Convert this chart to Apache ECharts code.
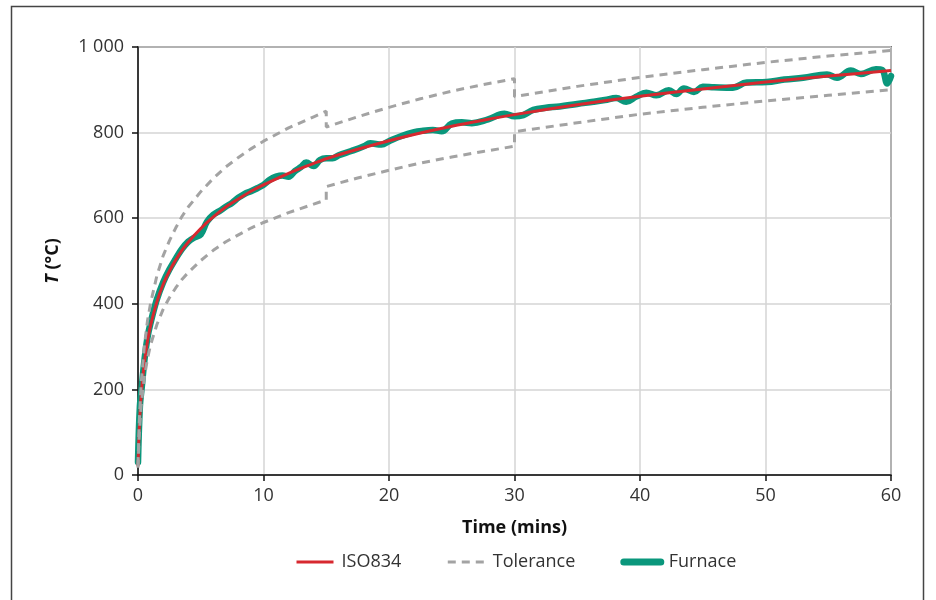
<!DOCTYPE html>
<html>
<head>
<meta charset="utf-8">
<script src="https://cdn.jsdelivr.net/npm/echarts@6/dist/echarts.min.js"></script>
<style>
html,body{margin:0;padding:0;background:#fff;}
#chart{width:936px;height:600px;}
</style>
</head>
<body>
<div id="chart"></div>
<script>
// ISO834 standard curve
const isoTime = [0,0.1,0.25,0.5,0.75,1,1.5,2,2.5,3,3.5,4,5,6,7,8,9,10,12,14,15,17.5,20,22.5,25,27.5,30,35,40,45,50,55,60];
const isoTemp = [20,108,185,261,312,349,404,445,476,502,525,544,576,603,626,645,663,678,705,728,739,761,781,799,815,829,842,865,885,902,918,932,945];

// Tolerance upper band
const upTime = [0,0.1,0.25,0.5,0.75,1,1.5,2,2.5,3,3.5,4,5,6,7,8,9,10,12,14,15,15,17.5,20,22.5,25,27.5,30,30,35,40,45,50,55,60];
const upTemp = [23,124,213,300,359,401,465,512,547,577,604,626,662,693,720,742,762,780,811,837,850,813,837,859,879,897,912,926,884,908,929,947,964,979,992];

// Tolerance lower band
const lowTime = [0,0.1,0.25,0.5,0.75,1,1.5,2,2.5,3,3.5,4,5,6,7,8,9,10,12,14,15,15,17.5,20,22.5,25,27.5,30,30,35,40,45,50,55,60];
const lowTemp = [17,94,161,227,271,304,351,387,414,437,457,473,501,525,545,561,577,590,613,633,643,674,694,712,729,743,756,768,802,823,843,859,874,887,900];

// Furnace measured
const furTime = [0,0.15,0.3,0.5,0.75,1,1.5,2,2.5,3,3.5,4,4.5,5,5.5,6,6.5,7,7.5,8,8.5,9,9.5,10,10.5,11,11.5,12,12.5,13,13.4,14,14.5,15,15.5,16,17,18,18.5,19.4,20,21,22,22.6,23.5,24.2,25,25.8,26.6,27.9,29.2,30,30.7,31.5,32.5,33.6,35,36.3,37.2,38.1,38.9,39.7,40.5,41.3,42.3,42.9,43.5,44.3,45,45.9,47.4,48.5,50.1,51.5,53,54.9,55.7,56.8,57.6,58.8,59.3,59.7,60];
const furTemp = [30,160,205,265,320,355,410,450,480,505,528,545,555,562,592,608,617,627,636,648,657,663,670,678,690,697,700,697,710,720,730,722,736,740,740,747,757,768,775,772,780,792,801,804,806,803,821,824,822,831,844,838,841,853,858,861,867,872,876,881,872,884,893,887,899,890,903,895,907,906,905,917,918,924,928,936,928,945,937,948,946,915,932];

const xTicks = [0,10,20,30,40,50,60];
const yTicks = [0,200,400,600,800,1000];

function zip(a,b){return a.map((v,i)=>[v,b[i]]);}

const FONT = '"Open Sans", "Noto Sans", sans-serif';
const RED = '#d7282f', GRAY = '#a3a3a3', TEAL = '#0a977c';
const HIDE = {opacity:0, borderWidth:0};

const chart = echarts.init(document.getElementById('chart'), null, {renderer:'canvas'});
chart.setOption({
  animation:false,
  backgroundColor:'#fff',
  graphic:[{
    type:'rect', silent:true, z:-1,
    shape:{x:11.5,y:6.5,width:912,height:620},
    style:{fill:'none',stroke:'#444',lineWidth:1.5}
  }],
  grid:{left:138,top:47,width:753,height:428,show:true,borderColor:'#111',borderWidth:1.5,backgroundColor:'transparent'},
  legend:{
    top:548, left:290,
    itemWidth:37, itemHeight:14, itemGap:45,
    textStyle:{fontFamily:FONT,fontSize:18,color:'#333',padding:[0,0,0,3]},
    data:[
      {name:'ISO834',lineStyle:{width:3},itemStyle:HIDE},
      {name:'Tolerance',lineStyle:{width:3,type:[8,6]},itemStyle:HIDE},
      {name:'Furnace',lineStyle:{width:7,cap:'round'},itemStyle:HIDE}
    ]
  },
  xAxis:{
    type:'value', min:xTicks[0], max:xTicks[xTicks.length-1], interval:10,
    name:'Time (mins)', nameLocation:'middle', nameGap:44,
    nameTextStyle:{fontFamily:FONT,fontSize:18,fontWeight:'bold',color:'#111'},
    axisLine:{lineStyle:{color:'#111',width:1.5}},
    axisTick:{show:true,length:6,lineStyle:{color:'#111',width:1.5}},
    axisLabel:{fontFamily:FONT,fontSize:18,color:'#333',margin:12},
    splitLine:{show:true,lineStyle:{color:'#d4d4d4',width:1.5}}
  },
  yAxis:{
    type:'value', min:yTicks[0], max:yTicks[yTicks.length-1], interval:200,
    name:'{i|T} (°C)', nameLocation:'middle', nameGap:76, nameRotate:90,
    nameTextStyle:{fontFamily:FONT,fontSize:18,fontWeight:'bold',color:'#111',
      rich:{i:{fontFamily:FONT,fontSize:18,fontWeight:'bold',fontStyle:'italic',color:'#111'}}},
    axisLine:{show:true,lineStyle:{color:'#111',width:1.5}},
    axisTick:{show:true,length:6,lineStyle:{color:'#111',width:1.5}},
    axisLabel:{fontFamily:FONT,fontSize:18,color:'#333',margin:14,
      formatter:v=> v>=1000 ? Math.floor(v/1000)+' '+String(v%1000).padStart(3,'0') : String(v)},
    splitLine:{show:true,lineStyle:{color:'#d4d4d4',width:1.5}}
  },
  series:[
    {name:'Furnace',type:'line',data:zip(furTime,furTemp),symbol:'none',smooth:0.4,z:2,
      lineStyle:{color:TEAL,width:6.5,cap:'round',join:'round'},itemStyle:{color:TEAL}},
    {name:'ISO834',type:'line',data:zip(isoTime,isoTemp),symbol:'none',smooth:0.3,z:3,
      lineStyle:{color:RED,width:3},itemStyle:{color:RED}},
    {name:'Tolerance',type:'line',data:zip(upTime,upTemp),symbol:'none',z:4,
      lineStyle:{color:GRAY,width:3,type:[8,6]},itemStyle:{color:GRAY}},
    {name:'Tolerance',type:'line',data:zip(lowTime,lowTemp),symbol:'none',z:4,
      lineStyle:{color:GRAY,width:3,type:[8,6]},itemStyle:{color:GRAY}}
  ]
});
</script>
</body>
</html>
